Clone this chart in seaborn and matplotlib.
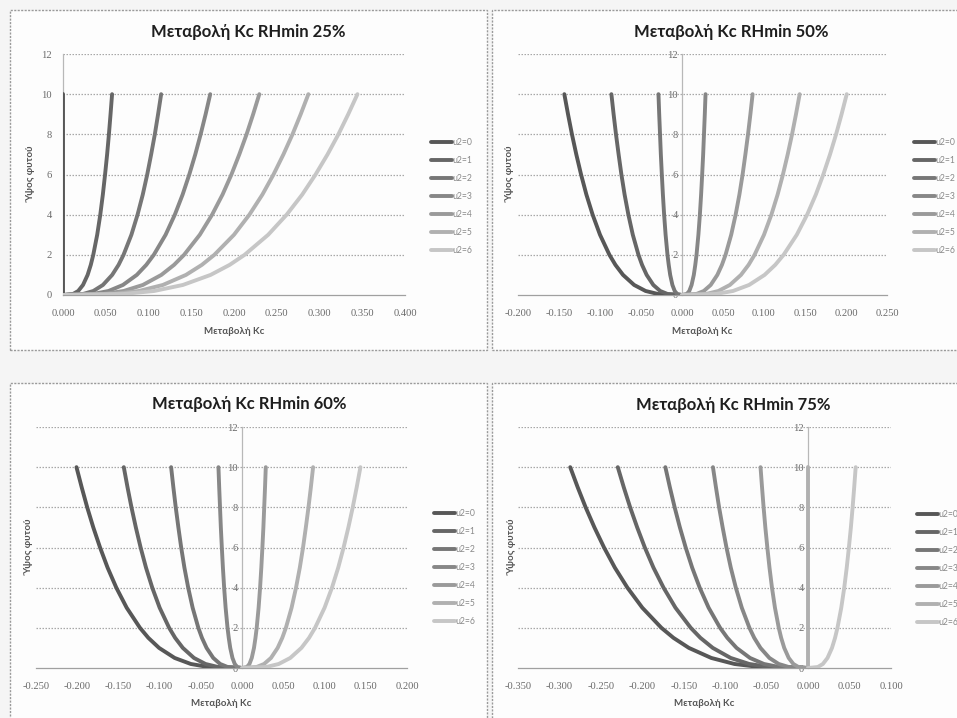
import matplotlib
matplotlib.use("Agg")
import matplotlib.pyplot as plt
from matplotlib.patches import Rectangle
from matplotlib.ticker import FormatStrFormatter
import pandas as pd
import seaborn as sns

# ---------------------------------------------------------------------------
# Data: plant height (m) and the Kc change for each wind speed u2 (m/s)
# ---------------------------------------------------------------------------
heights = [0, 0.05, 0.2, 0.5, 1, 1.5, 2, 3, 4, 5, 6, 7, 8, 9, 10]
series_labels = ["u2=0", "u2=1", "u2=2", "u2=3", "u2=4", "u2=5", "u2=6"]

kc_rh25 = [
    [0, 0, 0, 0, 0, 0, 0, 0, 0, 0, 0, 0, 0, 0, 0],
    [0, 0.0117, 0.0178, 0.0234, 0.0288, 0.0325, 0.0354, 0.0400, 0.0436, 0.0466, 0.0492, 0.0516, 0.0537, 0.0556, 0.0574],
    [0, 0.0234, 0.0355, 0.0467, 0.0575, 0.0650, 0.0708, 0.0800, 0.0872, 0.0933, 0.0985, 0.1031, 0.1074, 0.1112, 0.1148],
    [0, 0.0352, 0.0533, 0.0701, 0.0863, 0.0974, 0.1062, 0.1200, 0.1308, 0.1399, 0.1477, 0.1547, 0.1610, 0.1668, 0.1722],
    [0, 0.0469, 0.0710, 0.0934, 0.1150, 0.1299, 0.1416, 0.1600, 0.1744, 0.1866, 0.1970, 0.2062, 0.2147, 0.2224, 0.2296],
    [0, 0.0586, 0.0888, 0.1168, 0.1438, 0.1624, 0.1770, 0.2000, 0.2180, 0.2332, 0.2462, 0.2578, 0.2684, 0.2780, 0.2870],
    [0, 0.0703, 0.1066, 0.1402, 0.1726, 0.1949, 0.2124, 0.2400, 0.2616, 0.2798, 0.2954, 0.3094, 0.3221, 0.3336, 0.3444],
]

kc_rh50 = [
    [0, -0.0293, -0.0444, -0.0584, -0.0719, -0.0812, -0.0885, -0.1000, -0.1090, -0.1166, -0.1231, -0.1289, -0.1342, -0.1390, -0.1435],
    [0, -0.0176, -0.0266, -0.0350, -0.0431, -0.0487, -0.0531, -0.0600, -0.0654, -0.0700, -0.0739, -0.0773, -0.0805, -0.0834, -0.0861],
    [0, -0.0059, -0.0089, -0.0117, -0.0144, -0.0162, -0.0177, -0.0200, -0.0218, -0.0233, -0.0246, -0.0258, -0.0268, -0.0278, -0.0287],
    [0, 0.0059, 0.0089, 0.0117, 0.0144, 0.0162, 0.0177, 0.0200, 0.0218, 0.0233, 0.0246, 0.0258, 0.0268, 0.0278, 0.0287],
    [0, 0.0176, 0.0266, 0.0350, 0.0431, 0.0487, 0.0531, 0.0600, 0.0654, 0.0700, 0.0739, 0.0773, 0.0805, 0.0834, 0.0861],
    [0, 0.0293, 0.0444, 0.0584, 0.0719, 0.0812, 0.0885, 0.1000, 0.1090, 0.1166, 0.1231, 0.1289, 0.1342, 0.1390, 0.1435],
    [0, 0.0410, 0.0622, 0.0818, 0.1007, 0.1137, 0.1239, 0.1400, 0.1526, 0.1632, 0.1723, 0.1805, 0.1879, 0.1946, 0.2009],
]

kc_rh60 = [
    [0, -0.0410, -0.0622, -0.0818, -0.1007, -0.1137, -0.1239, -0.1400, -0.1526, -0.1632, -0.1723, -0.1805, -0.1879, -0.1946, -0.2009],
    [0, -0.0293, -0.0444, -0.0584, -0.0719, -0.0812, -0.0885, -0.1000, -0.1090, -0.1166, -0.1231, -0.1289, -0.1342, -0.1390, -0.1435],
    [0, -0.0176, -0.0266, -0.0350, -0.0431, -0.0487, -0.0531, -0.0600, -0.0654, -0.0700, -0.0739, -0.0773, -0.0805, -0.0834, -0.0861],
    [0, -0.0059, -0.0089, -0.0117, -0.0144, -0.0162, -0.0177, -0.0200, -0.0218, -0.0233, -0.0246, -0.0258, -0.0268, -0.0278, -0.0287],
    [0, 0.0059, 0.0089, 0.0117, 0.0144, 0.0162, 0.0177, 0.0200, 0.0218, 0.0233, 0.0246, 0.0258, 0.0268, 0.0278, 0.0287],
    [0, 0.0176, 0.0266, 0.0350, 0.0431, 0.0487, 0.0531, 0.0600, 0.0654, 0.0700, 0.0739, 0.0773, 0.0805, 0.0834, 0.0861],
    [0, 0.0293, 0.0444, 0.0584, 0.0719, 0.0812, 0.0885, 0.1000, 0.1090, 0.1166, 0.1231, 0.1289, 0.1342, 0.1390, 0.1435],
]

kc_rh75 = [
    [0, -0.0586, -0.0888, -0.1168, -0.1438, -0.1624, -0.1770, -0.2000, -0.2180, -0.2332, -0.2462, -0.2578, -0.2684, -0.2780, -0.2870],
    [0, -0.0469, -0.0710, -0.0934, -0.1150, -0.1299, -0.1416, -0.1600, -0.1744, -0.1866, -0.1970, -0.2062, -0.2147, -0.2224, -0.2296],
    [0, -0.0352, -0.0533, -0.0701, -0.0863, -0.0974, -0.1062, -0.1200, -0.1308, -0.1399, -0.1477, -0.1547, -0.1610, -0.1668, -0.1722],
    [0, -0.0234, -0.0355, -0.0467, -0.0575, -0.0650, -0.0708, -0.0800, -0.0872, -0.0933, -0.0985, -0.1031, -0.1074, -0.1112, -0.1148],
    [0, -0.0117, -0.0178, -0.0234, -0.0288, -0.0325, -0.0354, -0.0400, -0.0436, -0.0466, -0.0492, -0.0516, -0.0537, -0.0556, -0.0574],
    [0, 0, 0, 0, 0, 0, 0, 0, 0, 0, 0, 0, 0, 0, 0],
    [0, 0.0117, 0.0178, 0.0234, 0.0288, 0.0325, 0.0354, 0.0400, 0.0436, 0.0466, 0.0492, 0.0516, 0.0537, 0.0556, 0.0574],
]

titles = ["Μεταβολή Kc RHmin 25%", "Μεταβολή Kc RHmin 50%",
          "Μεταβολή Kc RHmin 60%", "Μεταβολή Kc RHmin 75%"]
x_ticks_25 = [0.000, 0.050, 0.100, 0.150, 0.200, 0.250, 0.300, 0.350, 0.400]
x_ticks_50 = [-0.200, -0.150, -0.100, -0.050, 0.000, 0.050, 0.100, 0.150, 0.200, 0.250]
x_ticks_60 = [-0.250, -0.200, -0.150, -0.100, -0.050, 0.000, 0.050, 0.100, 0.150, 0.200]
x_ticks_75 = [-0.350, -0.300, -0.250, -0.200, -0.150, -0.100, -0.050, 0.000, 0.050, 0.100]
y_ticks = [0, 2, 4, 6, 8, 10, 12]
x_label = "Μεταβολή Kc"
y_label = "Ύψος φυτού"

# ---------------------------------------------------------------------------
# Style
# ---------------------------------------------------------------------------
sns.set_style("white")
plt.rcParams["font.family"] = ["Lato", "DejaVu Sans"]
plt.rcParams["axes.unicode_minus"] = False

palette = ["#575757", "#666666", "#767676", "#878787", "#9a9a9a", "#b0b0b0", "#c6c6c6"]

W, H = 957, 718
fig = plt.figure(figsize=(W / 100, H / 100), dpi=100)
fig.patch.set_facecolor("#f5f5f5")


def frac_box(x0, y0, x1, y1):
    return [x0 / W, 1 - y1 / H, (x1 - x0) / W, (y1 - y0) / H]


# (values, title, ticks, plot box, chart box, title centre, legend anchor, y-label x, spine at zero)
panels = [
    (kc_rh25, titles[0], x_ticks_25, (63, 54, 405, 295), (10, 10, 487, 350), (248, 32), (431, 138), 32, False),
    (kc_rh50, titles[1], x_ticks_50, (518, 54, 887, 295), (492, 10, 975, 350), (731, 32), (914, 138), 511, True),
    (kc_rh60, titles[2], x_ticks_60, (36, 427, 407, 668), (10, 383, 487, 730), (249, 404), (434, 509), 30, True),
    (kc_rh75, titles[3], x_ticks_75, (518, 427, 891, 668), (492, 383, 975, 730), (733, 405), (917, 510), 513, True),
]

for values, title, ticks, pbox, cbox, tpos, lpos, ylx, at_zero in panels:
    # chart frame
    fig.add_artist(Rectangle((cbox[0] / W, 1 - cbox[3] / H), (cbox[2] - cbox[0]) / W,
                             (cbox[3] - cbox[1]) / H, transform=fig.transFigure,
                             facecolor="#fdfdfd", edgecolor="#9a9a9a", linewidth=1.0,
                             linestyle=(0, (1.5, 1.0)), zorder=-5))

    ax = fig.add_axes(frac_box(*pbox))
    ax.set_facecolor("none")

    df = pd.DataFrame({
        "kc": [v for row in values for v in row],
        "h": heights * len(values),
        "u2": [lab for lab in series_labels for _ in heights],
    })
    sns.lineplot(data=df, x="kc", y="h", hue="u2", hue_order=series_labels,
                 palette=palette, orient="y", estimator=None, sort=True,
                 linewidth=2.8, ax=ax, legend=True, zorder=3)

    ax.set_xlim(ticks[0], ticks[-1])
    ax.set_ylim(0, 12)
    ax.set_xticks(ticks)
    ax.set_yticks(y_ticks)
    ax.xaxis.set_major_formatter(FormatStrFormatter("%.3f"))

    # horizontal dotted gridlines
    for yv in y_ticks[1:]:
        ax.axhline(yv, color="#a8a8a8", linewidth=0.9, linestyle=(0, (1.2, 1.2)), zorder=1)

    for side in ("top", "right"):
        ax.spines[side].set_visible(False)
    ax.spines["bottom"].set_color("#a0a0a0")
    ax.spines["bottom"].set_linewidth(0.9)
    ax.spines["left"].set_color("#b8b8b8")
    ax.spines["left"].set_linewidth(0.9)
    if at_zero:
        ax.spines["left"].set_position(("data", 0))

    ax.tick_params(axis="both", length=0, labelsize=7.6, labelcolor="#6a6a6a")
    ax.tick_params(axis="x", pad=10)
    ax.tick_params(axis="y", pad=8 if not at_zero else 3)
    for lab in ax.get_xticklabels() + ax.get_yticklabels():
        lab.set_family("Liberation Serif")

    pw, ph = pbox[2] - pbox[0], pbox[3] - pbox[1]
    ax.set_xlabel(x_label, fontsize=7, fontweight="bold", color="#555555")
    ax.set_ylabel(y_label, fontsize=7, fontweight="bold", color="#555555")
    ax.xaxis.set_label_coords(0.5, -36 / ph)
    ax.yaxis.set_label_coords((ylx - pbox[0]) / pw, 0.5)
    ax.xaxis.label.set_verticalalignment("center")
    ax.yaxis.label.set_verticalalignment("center")

    fig.text(tpos[0] / W, 1 - tpos[1] / H, title, ha="center", va="center",
             fontsize=12, fontweight="bold", color="#1e1e1e")

    handles = ax.legend_.legend_handles
    labels = [t.get_text() for t in ax.legend_.texts]
    ax.legend_.remove()
    leg = ax.legend(handles, labels, loc="upper left",
                    bbox_to_anchor=(lpos[0] / W, 1 - lpos[1] / H),
                    bbox_transform=fig.transFigure, frameon=False,
                    fontsize=6.2, handlelength=2.4, handletextpad=0.05,
                    labelspacing=1.05, borderpad=0, borderaxespad=0)
    for t in leg.get_texts():
        t.set_color("#8a8a8a")

fig.savefig("out.png", dpi=100, facecolor=fig.get_facecolor())
